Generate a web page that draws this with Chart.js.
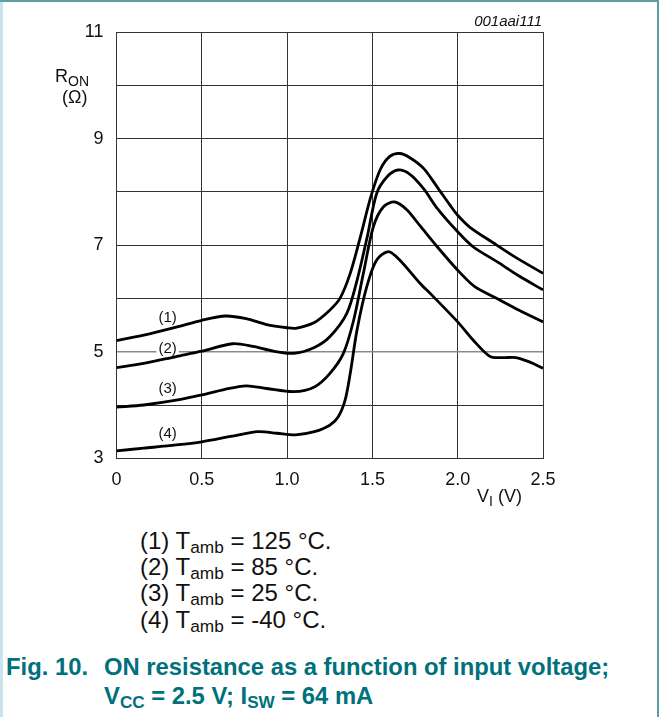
<!DOCTYPE html>
<html>
<head>
<meta charset="utf-8">
<script src="https://cdn.jsdelivr.net/npm/chart.js@4/dist/chart.umd.min.js"></script>
<style>
  html, body { margin: 0; padding: 0; background: #fff; }
  body { width: 660px; height: 717px; position: relative; overflow: hidden; font-family: 'Liberation Sans', Arial, sans-serif; }
  #frame-top { position: absolute; left: 0; top: 0; width: 659px; height: 2px; background: #5b9ea4; }
  #frame-right { position: absolute; left: 657px; top: 0; width: 2px; height: 717px; background: #5b9ea4; }
  #frame-left { position: absolute; left: 0; top: 0; width: 3px; height: 717px; background: #c9e5ec; }
  #chart { position: absolute; left: 0; top: 0; }
  .notes { position: absolute; left: 140px; top: 528px; font-size: 24px; line-height: 26.2px; color: #111; white-space: nowrap; }
  .sub { font-size: 0.72em; vertical-align: -0.25em; line-height: 0; }
  .cap { position: absolute; top: 652px; font-size: 23.8px; line-height: 29px; font-weight: bold; color: #00717c; white-space: nowrap; }
</style>
</head>
<body>
<div id="frame-left"></div>
<div id="frame-top"></div>
<div id="frame-right"></div>
<canvas id="chart" width="660" height="520"></canvas>

<div class="notes">
  (1) T<span class="sub">amb</span> = 125 °C.<br>
  (2) T<span class="sub">amb</span> = 85 °C.<br>
  (3) T<span class="sub">amb</span> = 25 °C.<br>
  (4) T<span class="sub">amb</span> = -40 °C.
</div>
<div class="cap" style="left:6px">Fig. 10.</div>
<div class="cap" style="left:104px">ON resistance as a function of input voltage;<br>V<span class="sub">CC</span> = 2.5 V; I<span class="sub">SW</span> = 64 mA</div>

<script>
// --- dados ---
const xTicks = [0, 0.5, 1.0, 1.5, 2.0, 2.5];
const yTicks = [3, 5, 7, 9, 11];
const curveLabels = ['(1)', '(2)', '(3)', '(4)'];

// (1) Tamb = 125 °C
const v1 = [0, 0.16, 0.35, 0.5, 0.64, 0.76, 0.88, 1.0, 1.05, 1.16, 1.25, 1.31, 1.37, 1.43, 1.49, 1.545, 1.6, 1.66, 1.72, 1.8, 1.88, 1.955, 2.0, 2.07, 2.21, 2.34, 2.5];
const r1 = [5.21, 5.31, 5.46, 5.59, 5.67, 5.62, 5.51, 5.45, 5.44, 5.55, 5.78, 6.0, 6.47, 7.16, 7.9, 8.41, 8.66, 8.72, 8.64, 8.44, 8.09, 7.75, 7.56, 7.34, 7.04, 6.77, 6.47];
// (2) Tamb = 85 °C
const v2 = [0, 0.16, 0.35, 0.5, 0.68, 0.8, 0.92, 1.04, 1.16, 1.25, 1.35, 1.41, 1.47, 1.525, 1.585, 1.65, 1.72, 1.8, 1.88, 2.0, 2.09, 2.23, 2.36, 2.5];
const r2 = [4.70, 4.78, 4.91, 5.01, 5.15, 5.10, 5.01, 4.97, 5.08, 5.28, 5.72, 6.34, 7.16, 7.97, 8.28, 8.41, 8.33, 8.06, 7.69, 7.25, 6.97, 6.69, 6.42, 6.16];
// (3) Tamb = 25 °C
const v3 = [0, 0.16, 0.35, 0.5, 0.63, 0.76, 0.88, 1.04, 1.16, 1.25, 1.33, 1.39, 1.447, 1.506, 1.565, 1.63, 1.7, 1.78, 1.88, 2.0, 2.1, 2.23, 2.36, 2.5];
const r3 = [3.96, 4.0, 4.09, 4.19, 4.29, 4.36, 4.31, 4.25, 4.34, 4.59, 4.97, 5.59, 6.47, 7.35, 7.72, 7.81, 7.67, 7.36, 6.97, 6.53, 6.22, 6.0, 5.78, 5.56];
// (4) Tamb = -40 °C
const v4 = [0, 0.16, 0.35, 0.5, 0.67, 0.83, 0.94, 1.05, 1.16, 1.25, 1.30, 1.34, 1.37, 1.41, 1.467, 1.525, 1.595, 1.66, 1.78, 1.84, 2.0, 2.09, 2.19, 2.27, 2.34, 2.42, 2.5];
const r4 = [3.14, 3.19, 3.25, 3.31, 3.41, 3.50, 3.47, 3.44, 3.50, 3.62, 3.78, 4.09, 4.59, 5.41, 6.22, 6.72, 6.88, 6.72, 6.28, 6.09, 5.56, 5.22, 4.91, 4.89, 4.89, 4.81, 4.69];

// posição dos rótulos (1)..(4) em coordenadas do gráfico
const labelV = [0.3, 0.3, 0.3, 0.3];
const labelR = [5.64, 5.06, 4.31, 3.45];

const FONT = "'Liberation Sans', Arial, sans-serif";
const pares = (vs, rs) => vs.map((v, i) => ({ x: v, y: rs[i] }));

const serie = (d) => ({
  data: d, borderColor: '#000', borderWidth: 2.8, pointRadius: 0,
  fill: false, tension: 0.3
});

// textos extras: eixo, código da figura, rótulos das curvas
const textosPlugin = {
  id: 'textos',
  beforeDatasetsDraw(chart) {
    const { ctx, scales: { x, y } } = chart;
    ctx.save();
    ctx.font = '15px ' + FONT;
    ctx.textAlign = 'center';
    ctx.textBaseline = 'middle';
    curveLabels.forEach((t, i) => {
      const px = x.getPixelForValue(labelV[i]);
      const py = y.getPixelForValue(labelR[i]);
      const w = ctx.measureText(t).width;
      ctx.fillStyle = '#fff';
      ctx.fillRect(px - w / 2 - 2, py - 8, w + 4, 16);
      ctx.fillStyle = '#111';
      ctx.fillText(t, px, py);
    });
    ctx.restore();
  },
  afterDraw(chart) {
    const { ctx } = chart;
    ctx.save();
    ctx.fillStyle = '#111';
    ctx.textBaseline = 'alphabetic';
    ctx.textAlign = 'left';
    // R_ON (Ω)
    ctx.font = '18px ' + FONT;
    ctx.fillText('R', 55, 82);
    const wR = ctx.measureText('R').width;
    ctx.font = '14px ' + FONT;
    ctx.fillText('ON', 55 + wR, 86);
    ctx.font = '18px ' + FONT;
    ctx.fillText('(Ω)', 62, 103);
    // V_I (V)
    ctx.fillText('V', 477, 502);
    const wV = ctx.measureText('V').width;
    ctx.font = '14px ' + FONT;
    ctx.fillText('I', 477 + wV, 506);
    const wI = ctx.measureText('I').width;
    ctx.font = '18px ' + FONT;
    ctx.fillText(' (V)', 477 + wV + wI, 502);
    // código da figura
    ctx.font = 'italic 15px ' + FONT;
    ctx.textAlign = 'right';
    ctx.fillText('001aai111', 542, 26);
    ctx.restore();
  }
};

new Chart(document.getElementById('chart'), {
  type: 'line',
  data: {
    datasets: [serie(pares(v1, r1)), serie(pares(v2, r2)), serie(pares(v3, r3)), serie(pares(v4, r4))]
  },
  options: {
    responsive: false,
    animation: false,
    layout: { padding: { left: 0, top: 32, right: 117, bottom: 0 } },
    plugins: { legend: { display: false }, tooltip: { enabled: false } },
    scales: {
      x: {
        type: 'linear', min: 0, max: 2.5,
        afterFit: (s) => { s.height = 61.7; },
        afterBuildTicks: (s) => { s.ticks = xTicks.map(v => ({ value: v })); },
        grid: { color: '#333', lineWidth: 1, drawTicks: false },
        border: { color: '#333', width: 1 },
        ticks: {
          padding: 11, autoSkip: false, maxRotation: 0, color: '#111',
          font: { family: FONT, size: 18 },
          callback: (v) => v === 0 ? '0' : Number(v).toFixed(1)
        }
      },
      y: {
        type: 'linear', min: 3, max: 11,
        afterFit: (s) => { s.width = 116.5; },
        afterBuildTicks: (s) => {
          const t = [];
          for (let v = 3; v <= 11; v++) t.push({ value: v });
          s.ticks = t;
        },
        grid: {
          drawTicks: false,
          color: (c) => c.tick && c.tick.value === 5 ? '#8a8a8a' : '#333',
          lineWidth: (c) => c.tick && c.tick.value === 5 ? 1.5 : 1
        },
        border: { color: '#333', width: 1 },
        ticks: {
          padding: 13, autoSkip: false, color: '#111',
          font: { family: FONT, size: 18 },
          callback: (v) => yTicks.includes(v) ? String(v) : ''
        }
      }
    }
  },
  plugins: [textosPlugin]
});
</script>
</body>
</html>
